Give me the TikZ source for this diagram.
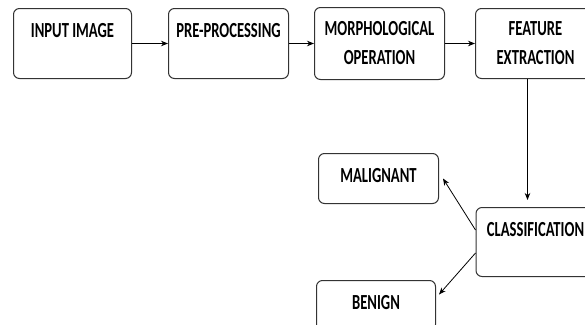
\documentclass[tikz,border=0pt]{standalone}
\usepackage{fontspec}
\newfontfamily\boxfont[FakeStretch=0.68]{Carlito}
\usetikzlibrary{arrows.meta,positioning}

\begin{document}
\begin{tikzpicture}[x=1pt,y=-1pt,>={Stealth[length=7pt,width=5.5pt]},
box/.style={draw=black!80,rounded corners=6pt,line width=1pt,inner sep=0pt,
  font=\boxfont\bfseries\fontsize{21.5}{29}\selectfont},
onebox/.style={box,text height=29pt},
twobox/.style={box,align=center},
link/.style={->,line width=0.8pt}]
\useasboundingbox (0,0) rectangle (585,324);
\node[onebox,minimum width=118pt,text depth=41pt,anchor=north west] (inimg) at (13,8) {INPUT IMAGE};
\node[onebox,minimum width=120pt,text depth=41pt,right=36pt of inimg] (prep) {PRE-PROCESSING};
\node[twobox,minimum width=130pt,minimum height=72pt,right=25pt of prep] (morph) {MORPHOLOGICAL\\OPERATION};
\node[twobox,minimum width=120pt,minimum height=70pt,right=30pt of morph] (feat) {FEATURE\\EXTRACTION};
\node[onebox,minimum width=119pt,text depth=40pt,below=128pt of feat] (cls) {CLASSIFICATION};
\node[onebox,minimum width=120pt,text depth=21pt,anchor=north west] (mal) at (318,153) {MALIGNANT};
\node[onebox,minimum width=119pt,text depth=21pt,anchor=north west] (ben) at (316,280) {BENIGN};
\draw[link] (inimg) -- (prep);
\draw[link] (prep) -- (morph);
\draw[link] (morph) -- (feat);
\draw[link,shorten >=7pt] ([xshift=-8pt]feat.south) -- ([xshift=-8pt]cls.north);
\draw[link] ([yshift=12pt]cls.west) -- ([xshift=4pt]mal.east);
\draw[link] ([yshift=-11pt]cls.west) -- ([xshift=3pt,yshift=11pt]ben.east);
\end{tikzpicture}
\end{document}
